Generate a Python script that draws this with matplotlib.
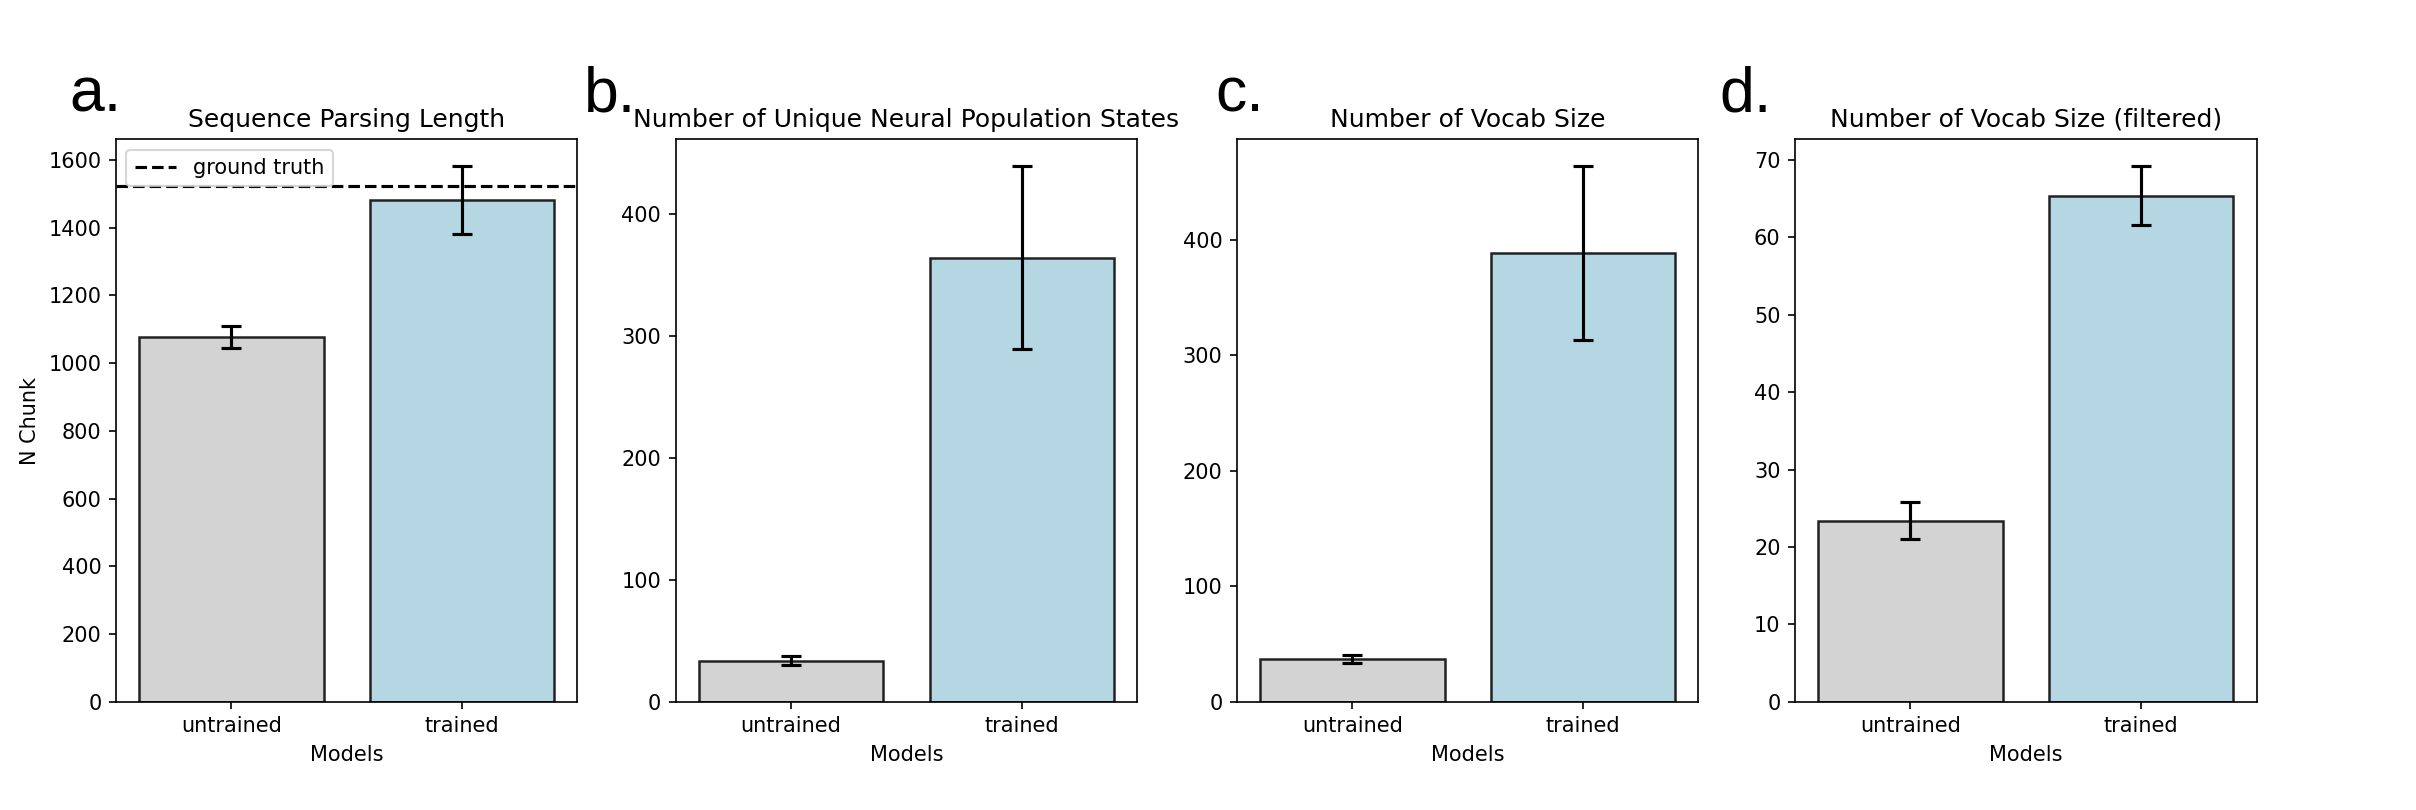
import matplotlib
matplotlib.use("Agg")
import matplotlib.pyplot as plt

models = ["untrained", "trained"]

parse_len_mean = [1078, 1482]
parse_len_err = [32, 100]
ground_truth = 1524

unique_states_mean = [33.5, 364.3]
unique_states_err = [3.7, 75.2]

vocab_mean = [37.0, 388.6]
vocab_err = [3.5, 75.5]

vocab_filt_mean = [23.4, 65.4]
vocab_filt_err = [2.4, 3.8]

titles = ["Sequence Parsing Length",
          "Number of Unique Neural Population States",
          "Number of Vocab Size",
          "Number of Vocab Size (filtered)"]
panel_letters = ["a.", "b.", "c.", "d."]

bar_colors = ["#d3d3d3", "#b5d7e3"]

fig = plt.figure(figsize=(2416 / 150, 810 / 150), dpi=150)

lefts = [0.048, 0.2797, 0.512, 0.743]
width = 0.191
bottom = 0.1337
height = 0.828 - 0.1337

means = [parse_len_mean, unique_states_mean, vocab_mean, vocab_filt_mean]
errs = [parse_len_err, unique_states_err, vocab_err, vocab_filt_err]

axes = []
for i in range(4):
    ax = fig.add_axes([lefts[i], bottom, width, height])
    x = list(range(len(models)))
    ax.bar(x, means[i], width=0.8, color=bar_colors, edgecolor="#222222",
           linewidth=1.2, zorder=2)
    ax.errorbar(x, means[i], yerr=errs[i], fmt="none", ecolor="black",
                elinewidth=1.5, capsize=5, capthick=1.5, zorder=3)
    ax.set_xticks(x)
    ax.set_xticklabels(models)
    ax.set_xlim(-0.5, 1.5)
    ax.set_xlabel("Models")
    ax.set_title(titles[i], fontsize=12)
    axes.append(ax)

axes[0].axhline(ground_truth, color="black", linestyle="--", linewidth=1.5,
                label="ground truth", zorder=1)
axes[0].set_ylabel("N Chunk")
axes[0].legend(loc="upper left")

for ax in axes:
    ax.relim()
    ax.autoscale(axis="y")
    lo, hi = ax.get_ylim()
    ax.set_ylim(0, hi)

letter_x = [0.0286, 0.2416, 0.503, 0.7116]
for lx, lt in zip(letter_x, panel_letters):
    fig.text(lx, 0.862, lt, fontsize=30, family="Liberation Sans",
             ha="left", va="baseline")

fig.savefig("out.png", dpi=150)
